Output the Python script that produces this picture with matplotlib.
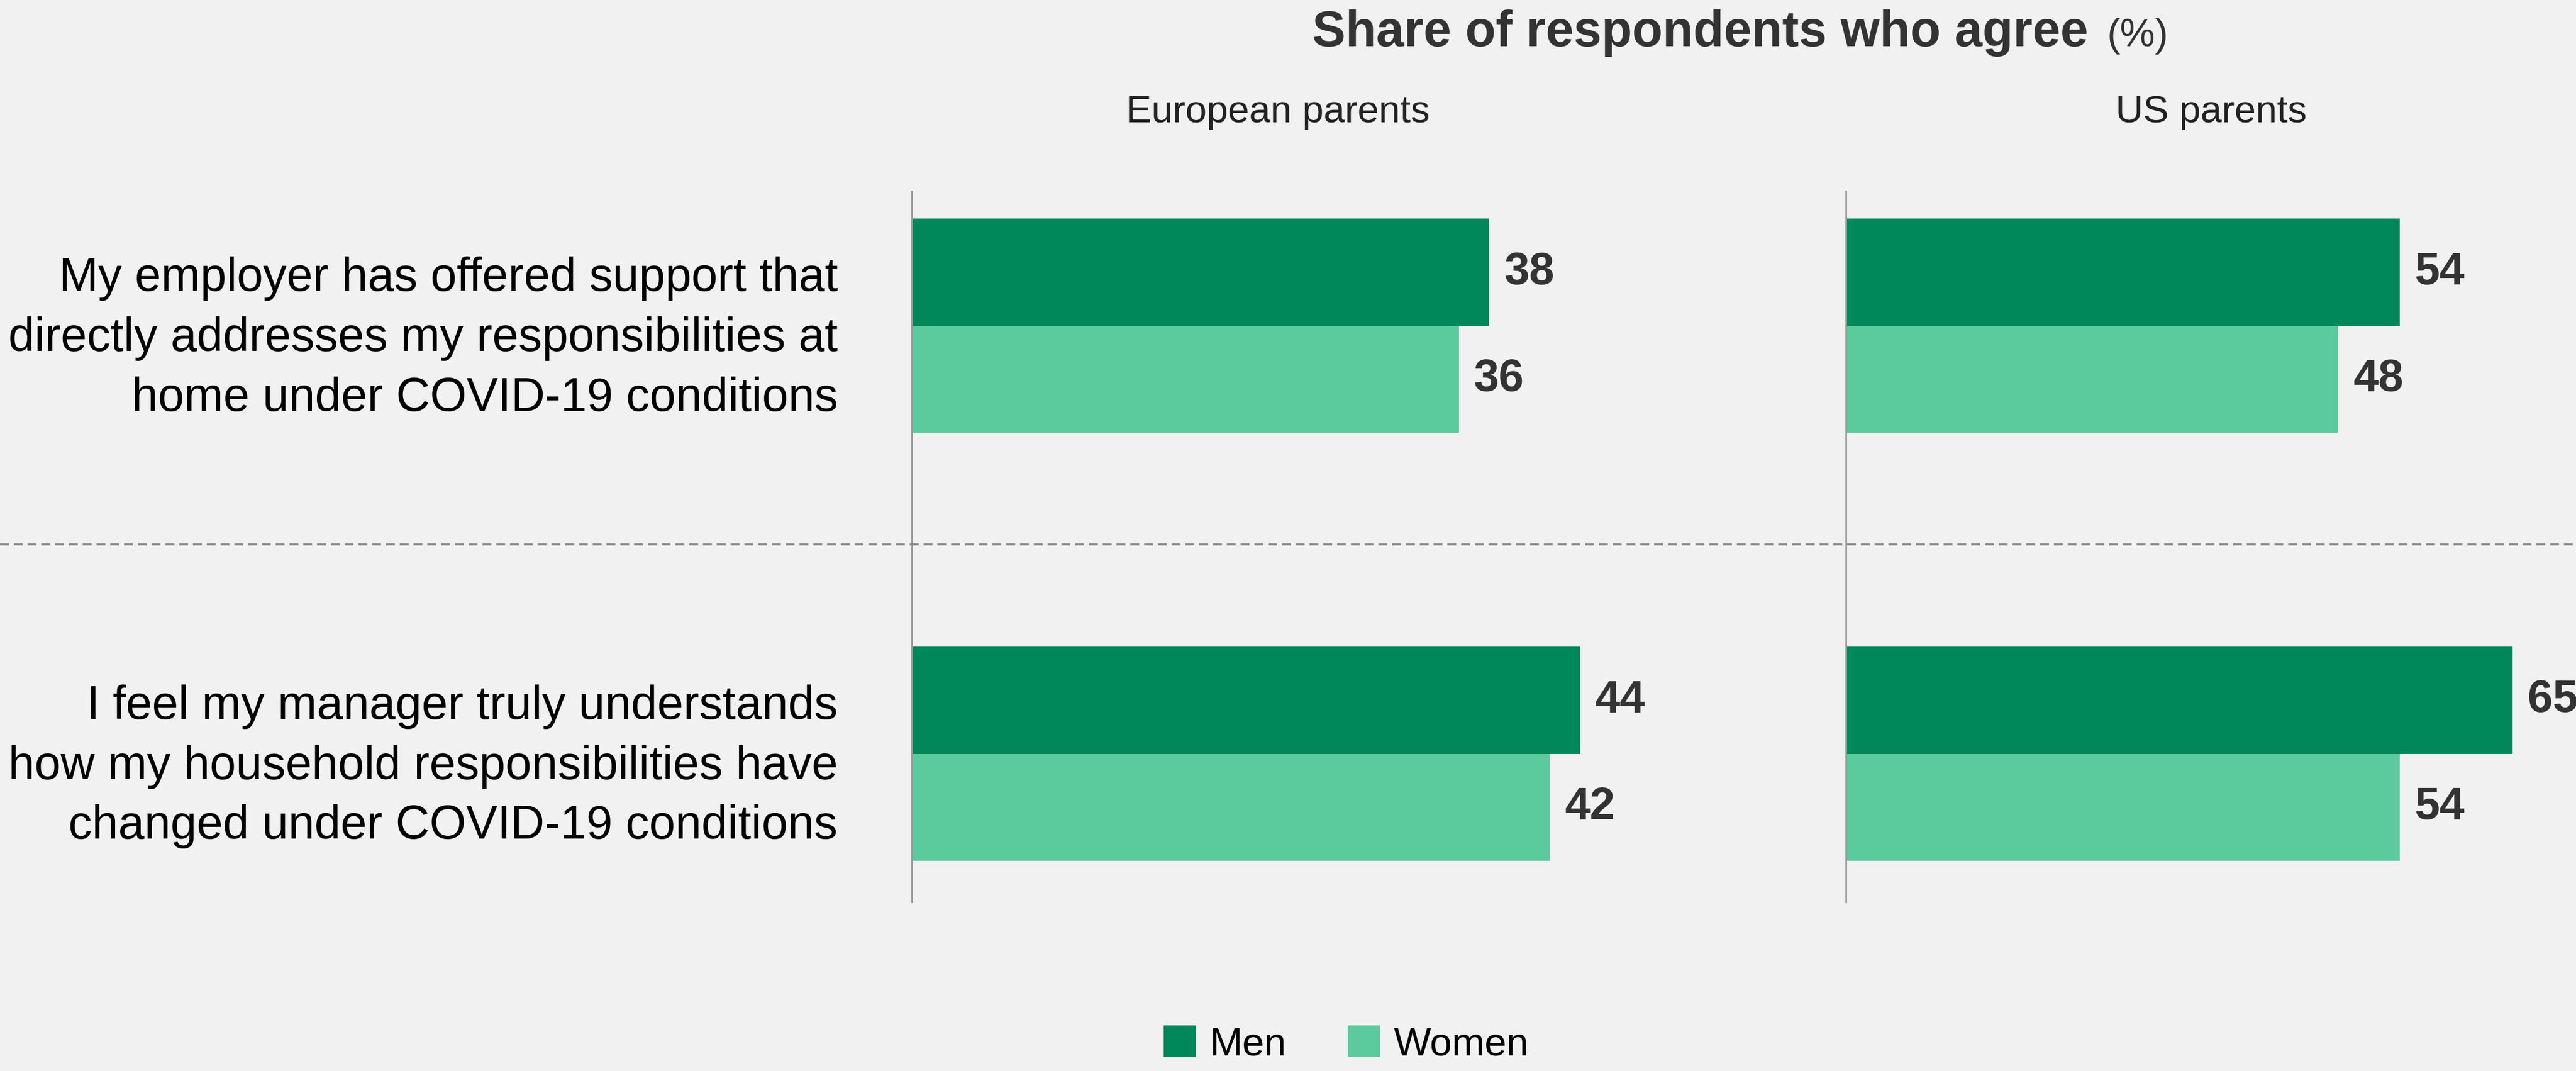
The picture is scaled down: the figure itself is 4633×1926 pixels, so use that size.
import numpy as np
import matplotlib.pyplot as plt
from matplotlib.patches import Patch
from matplotlib.lines import Line2D
from matplotlib.transforms import blended_transform_factory

statements = [
    "My employer has offered support that\ndirectly addresses my responsibilities at\nhome under COVID-19 conditions",
    "I feel my manager truly understands\nhow my household responsibilities have\nchanged under COVID-19 conditions",
]
panels = ["European parents", "US parents"]
men_eu = [38, 44]
women_eu = [36, 42]
men_us = [54, 65]
women_us = [48, 54]
series_labels = ["Men", "Women"]

DARK = "#00875A"
LIGHT = "#5BCA9C"
BG = "#F1F1F1"
TXT = "#333333"

plt.rcParams["font.family"] = ["Liberation Sans", "DejaVu Sans"]

W, H, DPI = 4633, 1926, 300
fig = plt.figure(figsize=(W / DPI, H / DPI), dpi=DPI, facecolor=BG)

bottom = 1 - 1622 / H
top = 1 - 344 / H
ax_eu = fig.add_axes([1640 / W, bottom, 1560 / W, top - bottom])
ax_us = fig.add_axes([3320 / W, bottom, 1313 / W, top - bottom])

pos = np.arange(len(statements))
bh = 0.25

for ax, men, women, xmax in [
    (ax_eu, men_eu, women_eu, 57.1),
    (ax_us, men_us, women_us, 71.2),
]:
    ax.set_facecolor(BG)
    b1 = ax.barh(pos - bh / 2, men, height=bh, color=DARK)
    b2 = ax.barh(pos + bh / 2, women, height=bh, color=LIGHT)
    for bars in (b1, b2):
        for rect in bars:
            v = rect.get_width()
            ax.annotate(f"{v:g}", (v, rect.get_y() + rect.get_height() / 2),
                        xytext=(6.5, 0), textcoords="offset points",
                        ha="left", va="center", fontsize=19.5, fontweight="bold",
                        color=TXT, annotation_clip=False)
    ax.set_xlim(0, xmax)
    ax.set_ylim(1.346, -0.314)
    for s in ["top", "right", "bottom"]:
        ax.spines[s].set_visible(False)
    ax.spines["left"].set_color("#999999")
    ax.spines["left"].set_linewidth(0.75)
    ax.set_xticks([])
    ax.tick_params(axis="y", length=0)
    ax.set_yticks([])

# category labels on the left
ax_eu.set_yticks(pos)
ax_eu.set_yticklabels(statements, fontsize=20.3, ha="right", multialignment="right",
                      linespacing=1.45, color="black")
ax_eu.tick_params(axis="y", pad=32)

# panel subtitles
fig.text(2298 / W, 1 - 220 / H, panels[0], ha="center", va="baseline",
         fontsize=16.5, color="#222222")
fig.text(3977 / W, 1 - 220 / H, panels[1], ha="center", va="baseline",
         fontsize=16.5, color="#222222")

# title
fig.text(3756 / W, 1 - 83 / H, "Share of respondents who agree", ha="right",
         va="baseline", fontsize=21.6, fontweight="bold", color=TXT)
fig.text(3790 / W, 1 - 83 / H, "(%)", ha="left", va="baseline",
         fontsize=17, color=TXT)

# dashed separator across the whole width
tr = blended_transform_factory(fig.transFigure, ax_eu.transData)
fig.add_artist(Line2D([0, 1], [0.511, 0.511], transform=tr, color="#888888",
                      lw=0.85, dashes=(4.5, 2.5)))

handles = [Patch(color=DARK), Patch(color=LIGHT)]
fig.legend(handles, series_labels, loc="center", bbox_to_anchor=(2422 / W, 1 - 1879 / H),
           ncol=2, frameon=False, fontsize=17, handlelength=0.76, handleheight=0.76,
           handletextpad=0.37, columnspacing=1.6)

fig.savefig("out.png", dpi=DPI, facecolor=BG)
